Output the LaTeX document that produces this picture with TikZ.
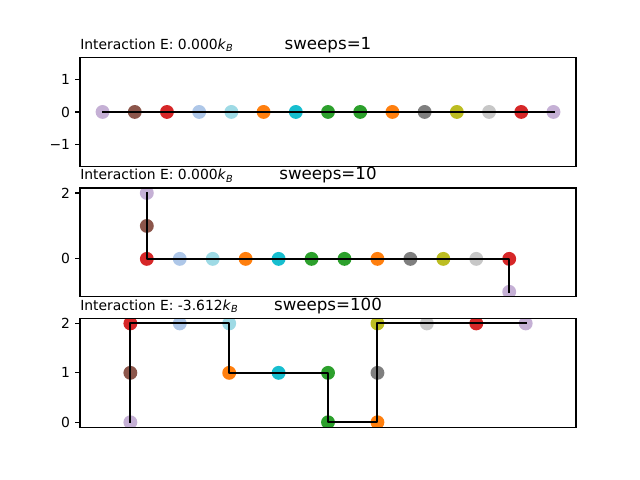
\documentclass[tikz,border=0pt]{standalone}
\usepackage{fontspec}
\setmainfont{DejaVu Sans}
\usepackage{tikz}
\definecolor{lav}{HTML}{C5B0D5}
\definecolor{brn}{HTML}{8C564B}
\definecolor{red}{HTML}{D62728}
\definecolor{lblu}{HTML}{AEC7E8}
\definecolor{lcyn}{HTML}{9EDAE5}
\definecolor{org}{HTML}{FF7F0E}
\definecolor{cyn}{HTML}{17BECF}
\definecolor{grn}{HTML}{2CA02C}
\definecolor{gry}{HTML}{7F7F7F}
\definecolor{olv}{HTML}{BCBD22}
\definecolor{lgry}{HTML}{C7C7C7}
\begin{document}
\begin{tikzpicture}[x=0.72pt, y=-0.72pt,
        bead/.style={circle, inner sep=0pt, minimum size=10pt},
        walk/.style={line width=1.5pt, line join=round, line cap=rect},
        axbox/.style={line width=0.8pt},
        ytick/.style={line width=0.8pt},
        ticklab/.style={anchor=east, inner sep=0pt, font=\fontsize{10}{12}\selectfont},
        sweeps/.style={anchor=base, inner sep=0pt, font=\fontsize{12}{14}\selectfont},
        energy/.style={anchor=base west, inner sep=0pt, font=\fontsize{10}{12}\selectfont}]
        \useasboundingbox (0,0) rectangle (640,480);
        % sweeps=1
        \begin{scope}
        \clip (80,57.6) rectangle (576,166.31);
        \begin{scope}[shift={(102.55,111.95)}, x=23.19pt, y=23.19pt]
        \node[bead, fill=lav] (a0) at (0,0) {};
        \node[bead, fill=brn] (a1) at (1,0) {};
        \node[bead, fill=red] (a2) at (2,0) {};
        \node[bead, fill=lblu] (a3) at (3,0) {};
        \node[bead, fill=lcyn] (a4) at (4,0) {};
        \node[bead, fill=org] (a5) at (5,0) {};
        \node[bead, fill=cyn] (a6) at (6,0) {};
        \node[bead, fill=grn] (a7) at (7,0) {};
        \node[bead, fill=grn] (a8) at (8,0) {};
        \node[bead, fill=org] (a9) at (9,0) {};
        \node[bead, fill=gry] (a10) at (10,0) {};
        \node[bead, fill=olv] (a11) at (11,0) {};
        \node[bead, fill=lgry] (a12) at (12,0) {};
        \node[bead, fill=red] (a13) at (13,0) {};
        \node[bead, fill=lav] (a14) at (14,0) {};
        \draw[walk] (a0.center) -- (a1.center) -- (a2.center) -- (a3.center) -- (a4.center) -- (a5.center) -- (a6.center) -- (a7.center) -- (a8.center) -- (a9.center) -- (a10.center) -- (a11.center) -- (a12.center) -- (a13.center) -- (a14.center);
        \end{scope}
        \end{scope}
        \draw[axbox] (80,57.6) rectangle (576,166.31);
        \draw[ytick] (80,79.74) -- (75.14,79.74);
        \draw[ytick] (80,111.95) -- (75.14,111.95);
        \draw[ytick] (80,144.16) -- (75.14,144.16);
        \node[ticklab] (ta1) at (70.28,79.74) {1};
        \node[ticklab] (ta0) at (70.28,111.95) {0};
        \node[ticklab] (tam) at (70.28,144.16) {−1};
        \node[energy] (ea) at (80,49.27) {Interaction E: 0.000\textit{k}\textsubscript{\textit{B}}};
        \node[sweeps] (sa) at (328,49.27) {sweeps=1};
        % sweeps=10
        \begin{scope}
        \clip (80,188.05) rectangle (576,296.76);
        \begin{scope}[shift={(146.83,258.88)}, x=23.72pt, y=23.72pt]
        \node[bead, fill=lav] (b0) at (0,2) {};
        \node[bead, fill=brn] (b1) at (0,1) {};
        \node[bead, fill=red] (b2) at (0,0) {};
        \node[bead, fill=lblu] (b3) at (1,0) {};
        \node[bead, fill=lcyn] (b4) at (2,0) {};
        \node[bead, fill=org] (b5) at (3,0) {};
        \node[bead, fill=cyn] (b6) at (4,0) {};
        \node[bead, fill=grn] (b7) at (5,0) {};
        \node[bead, fill=grn] (b8) at (6,0) {};
        \node[bead, fill=org] (b9) at (7,0) {};
        \node[bead, fill=gry] (b10) at (8,0) {};
        \node[bead, fill=olv] (b11) at (9,0) {};
        \node[bead, fill=lgry] (b12) at (10,0) {};
        \node[bead, fill=red] (b13) at (11,0) {};
        \node[bead, fill=lav] (b14) at (11,-1) {};
        \draw[walk] (b0.center) -- (b1.center) -- (b2.center) -- (b3.center) -- (b4.center) -- (b5.center) -- (b6.center) -- (b7.center) -- (b8.center) -- (b9.center) -- (b10.center) -- (b11.center) -- (b12.center) -- (b13.center) -- (b14.center);
        \end{scope}
        \end{scope}
        \draw[axbox] (80,188.05) rectangle (576,296.76);
        \draw[ytick] (80,193.0) -- (75.14,193.0);
        \draw[ytick] (80,258.88) -- (75.14,258.88);
        \node[ticklab] (tb2) at (70.28,193.0) {2};
        \node[ticklab] (tb0) at (70.28,258.88) {0};
        \node[energy] (eb) at (80,179.72) {Interaction E: 0.000\textit{k}\textsubscript{\textit{B}}};
        \node[sweeps] (sb) at (328,179.72) {sweeps=10};
        % sweeps=100
        \begin{scope}
        \clip (80,318.49) rectangle (576,427.2);
        \begin{scope}[shift={(130.36,422.26)}, x=35.58pt, y=35.58pt]
        \node[bead, fill=lav] (c0) at (0,0) {};
        \node[bead, fill=brn] (c1) at (0,1) {};
        \node[bead, fill=red] (c2) at (0,2) {};
        \node[bead, fill=lblu] (c3) at (1,2) {};
        \node[bead, fill=lcyn] (c4) at (2,2) {};
        \node[bead, fill=org] (c5) at (2,1) {};
        \node[bead, fill=cyn] (c6) at (3,1) {};
        \node[bead, fill=grn] (c7) at (4,1) {};
        \node[bead, fill=grn] (c8) at (4,0) {};
        \node[bead, fill=org] (c9) at (5,0) {};
        \node[bead, fill=gry] (c10) at (5,1) {};
        \node[bead, fill=olv] (c11) at (5,2) {};
        \node[bead, fill=lgry] (c12) at (6,2) {};
        \node[bead, fill=red] (c13) at (7,2) {};
        \node[bead, fill=lav] (c14) at (8,2) {};
        \draw[walk] (c0.center) -- (c1.center) -- (c2.center) -- (c3.center) -- (c4.center) -- (c5.center) -- (c6.center) -- (c7.center) -- (c8.center) -- (c9.center) -- (c10.center) -- (c11.center) -- (c12.center) -- (c13.center) -- (c14.center);
        \end{scope}
        \end{scope}
        \draw[axbox] (80,318.49) rectangle (576,427.2);
        \draw[ytick] (80,323.44) -- (75.14,323.44);
        \draw[ytick] (80,372.85) -- (75.14,372.85);
        \draw[ytick] (80,422.26) -- (75.14,422.26);
        \node[ticklab] (tc2) at (70.28,323.44) {2};
        \node[ticklab] (tc1) at (70.28,372.85) {1};
        \node[ticklab] (tc0) at (70.28,422.26) {0};
        \node[energy] (ec) at (80,310.16) {Interaction E: -3.612\textit{k}\textsubscript{\textit{B}}};
        \node[sweeps] (sc) at (328,310.16) {sweeps=100};
\end{tikzpicture}
\end{document}
